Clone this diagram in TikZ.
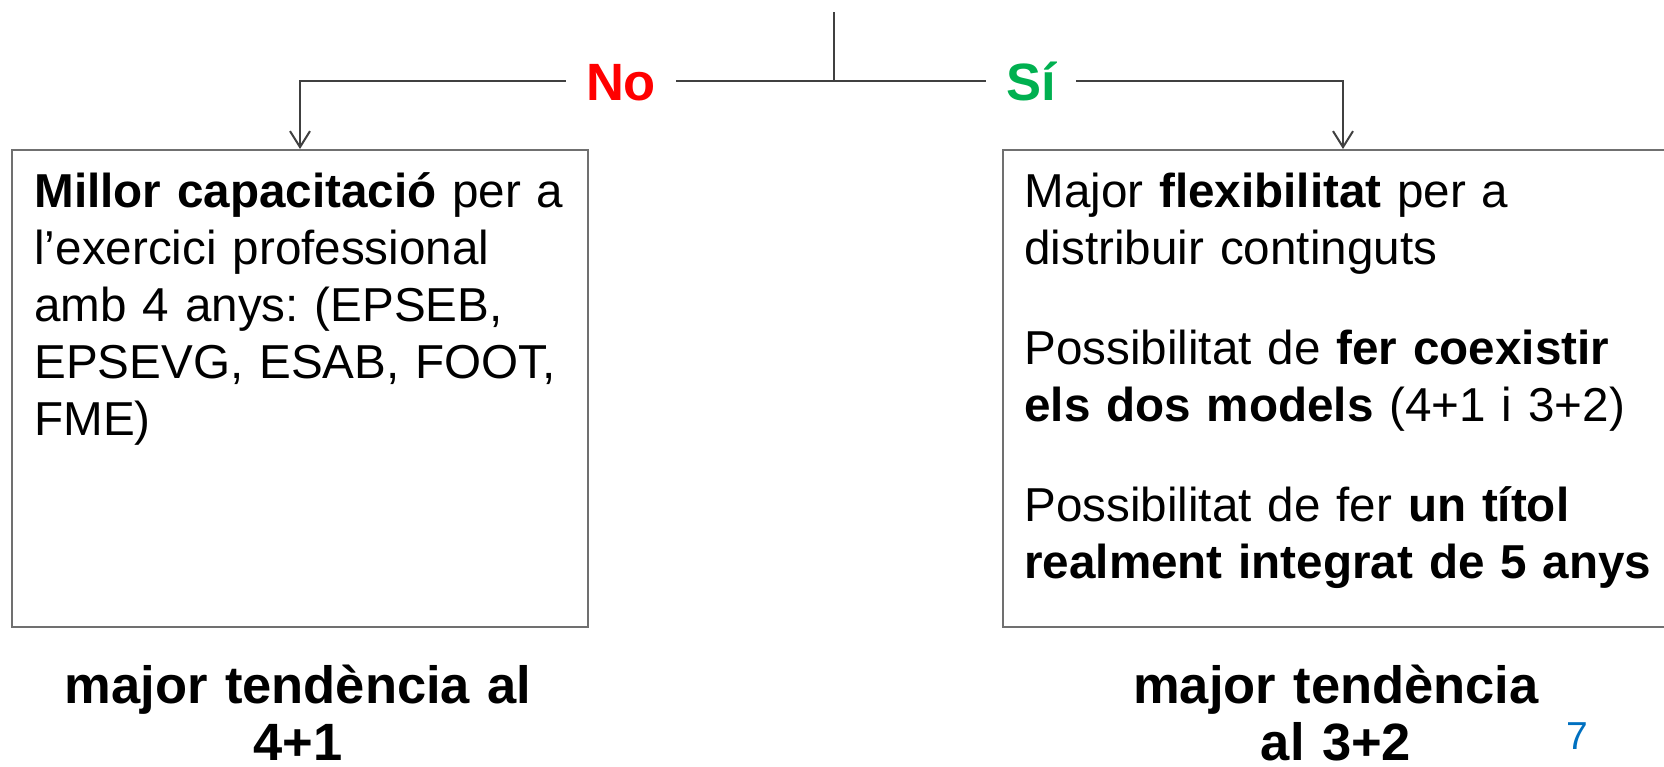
\documentclass[tikz,border=0pt]{standalone}
\usepackage{fontspec}
\setmainfont{Liberation Sans}
\usetikzlibrary{arrows.meta,calc}
\definecolor{noRed}{RGB}{255,0,0}
\definecolor{siGreen}{RGB}{0,176,80}
\definecolor{lineGray}{RGB}{64,64,64}
\definecolor{boxGray}{RGB}{112,112,112}
\definecolor{pageBlue}{RGB}{0,112,192}
\frenchspacing
\begin{document}
\begin{tikzpicture}[x=0.5pt,y=-0.5pt,
  conn/.style={draw=lineGray, line width=1pt},
  arr/.style={conn, -{Straight Barb[length=8pt,width=10pt]}},
  box/.style={draw=boxGray, line width=1pt, rectangle, inner sep=0pt},
  body/.style={anchor=base west, inner sep=0pt, align=left, text width=320pt, font=\fontsize{23.8}{28.5}\selectfont},
  choice/.style={inner xsep=10pt, inner ysep=0pt, anchor=base, font=\bfseries\fontsize{26.25}{28.5}\selectfont},
  verdict/.style={anchor=base, inner sep=0pt, align=center, text width=300pt, font=\bfseries\fontsize{26.25}{28.5}\selectfont},
]
\useasboundingbox (0,0) rectangle (1664,766);

\node[box, minimum width=288pt, minimum height=238.5pt] (lbox) at (300,388.5) {};
\node[box, minimum width=340pt, minimum height=238.5pt] (rbox) at (1343,388.5) {};

\node[body] (ltext) at (34,207) {\textbf{Millor capacitació} per a\\ l’exercici professional\\ amb 4 anys: (EPSEB,\\ EPSEVG, ESAB, FOOT,\\ FME)};
\node[body] (rtext) at (1024,207) {Major \textbf{flexibilitat} per a\\ distribuir continguts\\[21.5pt] Possibilitat de \textbf{fer coexistir}\\ \textbf{els dos models} (4+1 i 3+2)\\[21.5pt] Possibilitat de fer \textbf{un títol}\\ \textbf{realment integrat de 5 anys}};

\node[choice, text=noRed] (no) at (621,100) {No};
\node[choice, text=siGreen] (si) at (1031,100) {Sí};

\coordinate (top) at (834,12);
\coordinate (j) at (834,81);
\draw[conn] (top) -- (j);
\draw[conn] (j) -- (j -| no.east);
\draw[arr] (j -| no.west) -| (lbox.north);
\draw[conn] (j) -- (j -| si.west);
\draw[arr] (j -| si.east) -| (rbox.north);

\node[verdict] (lverd) at (298,703) {major tendència al\\4+1};
\node[verdict] (rverd) at (1336,703) {major tendència\\al 3+2};

\node[anchor=base, inner sep=0pt, text=pageBlue, font=\fontsize{19.5}{22}\selectfont] (pnum) at (1577,749) {7};
\end{tikzpicture}
\end{document}
